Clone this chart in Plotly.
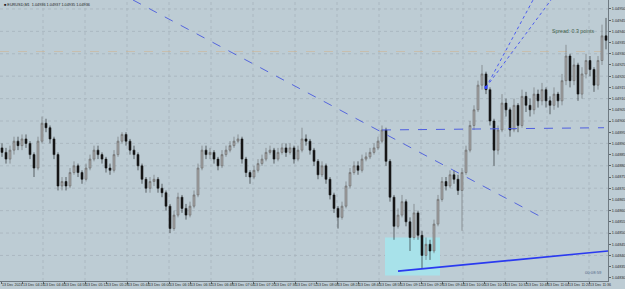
import numpy as np
import plotly.graph_objects as go

# ---- data (EURUSD M1, prices) ----
opens = [1.04888,1.04886,1.04883,1.04887,1.04891,1.04889,1.04892,1.04890,1.04885,1.04879,
 1.04891,1.04899,1.04897,1.04892,1.04885,1.04871,1.04873,1.04871,1.04877,1.04880,
 1.04877,1.04874,1.04879,1.04883,1.04887,1.04885,1.04883,1.04879,1.04878,1.04885,
 1.04891,1.04894,1.04891,1.04887,1.04885,1.04880,1.04874,1.04870,1.04873,1.04874,
 1.04870,1.04868,1.04862,1.04852,1.04858,1.04866,1.04861,1.04858,1.04862,1.04867,
 1.04879,1.04887,1.04885,1.04886,1.04883,1.04880,1.04885,1.04887,1.04889,1.04891,
 1.04892,1.04883,1.04877,1.04875,1.04878,1.04881,1.04883,1.04886,1.04887,1.04883,
 1.04886,1.04888,1.04886,1.04888,1.04883,1.04887,1.04892,1.04891,1.04887,1.04882,
 1.04876,1.04880,1.04874,1.04867,1.04861,1.04857,1.04862,1.04871,1.04877,1.04880,
 1.04878,1.04883,1.04884,1.04886,1.04888,1.04891,1.04896,1.04882,1.04866,1.04853,
 1.04858,1.04864,1.04855,1.04848,1.04859,1.04849,1.04840,1.04845,1.04842,1.04854,
 1.04865,1.04873,1.04871,1.04876,1.04874,1.04869,1.04877,1.04887,1.04898,1.04905,
 1.04916,1.04921,1.04914,1.04900,1.04887,1.04896,1.04908,1.04905,1.04896,1.04907,
 1.04898,1.04911,1.04907,1.04905,1.04912,1.04909,1.04914,1.04909,1.04907,1.04912,
 1.04909,1.04918,1.04929,1.04918,1.04925,1.04912,1.04921,1.04927,1.04923,1.04916,
 1.04927,1.04938]
closes = [1.04886,1.04883,1.04887,1.04891,1.04889,1.04892,1.04890,1.04885,1.04879,1.04891,
 1.04899,1.04897,1.04892,1.04885,1.04871,1.04873,1.04871,1.04877,1.04880,1.04877,
 1.04874,1.04879,1.04883,1.04887,1.04885,1.04883,1.04879,1.04878,1.04885,1.04891,
 1.04894,1.04891,1.04887,1.04885,1.04880,1.04874,1.04870,1.04873,1.04874,1.04870,
 1.04868,1.04862,1.04852,1.04858,1.04866,1.04861,1.04858,1.04862,1.04867,1.04879,
 1.04887,1.04885,1.04886,1.04883,1.04880,1.04885,1.04887,1.04889,1.04891,1.04892,
 1.04883,1.04877,1.04875,1.04878,1.04881,1.04883,1.04886,1.04887,1.04883,1.04886,
 1.04888,1.04886,1.04888,1.04883,1.04887,1.04892,1.04891,1.04887,1.04882,1.04876,
 1.04880,1.04874,1.04867,1.04861,1.04857,1.04862,1.04871,1.04877,1.04880,1.04878,
 1.04883,1.04884,1.04886,1.04888,1.04891,1.04896,1.04882,1.04866,1.04853,1.04858,
 1.04864,1.04855,1.04848,1.04859,1.04849,1.04840,1.04845,1.04842,1.04854,1.04865,
 1.04873,1.04871,1.04876,1.04874,1.04869,1.04877,1.04887,1.04898,1.04905,1.04916,
 1.04921,1.04914,1.04900,1.04887,1.04896,1.04908,1.04905,1.04896,1.04907,1.04898,
 1.04911,1.04907,1.04905,1.04912,1.04909,1.04914,1.04909,1.04907,1.04912,1.04909,
 1.04918,1.04929,1.04918,1.04925,1.04912,1.04921,1.04927,1.04923,1.04916,1.04927,
 1.04938,1.04936]
highs = [1.04890,1.04888,1.04889,1.04893,1.04893,1.04894,1.04894,1.04891,1.04886,1.04893,
 1.04902,1.04901,1.04898,1.04893,1.04886,1.04875,1.04875,1.04879,1.04882,1.04881,
 1.04878,1.04881,1.04885,1.04889,1.04889,1.04886,1.04884,1.04881,1.04887,1.04893,
 1.04895,1.04895,1.04892,1.04889,1.04886,1.04881,1.04875,1.04875,1.04876,1.04875,
 1.04872,1.04869,1.04863,1.04860,1.04868,1.04867,1.04863,1.04864,1.04869,1.04881,
 1.04889,1.04889,1.04888,1.04887,1.04884,1.04887,1.04889,1.04891,1.04893,1.04894,
 1.04893,1.04884,1.04878,1.04880,1.04883,1.04885,1.04888,1.04889,1.04888,1.04888,
 1.04890,1.04890,1.04890,1.04889,1.04889,1.04897,1.04894,1.04892,1.04888,1.04883,
 1.04882,1.04881,1.04875,1.04868,1.04862,1.04864,1.04873,1.04879,1.04882,1.04882,
 1.04885,1.04886,1.04888,1.04890,1.04893,1.04898,1.04897,1.04883,1.04867,1.04861,
 1.04867,1.04865,1.04857,1.04863,1.04860,1.04851,1.04848,1.04847,1.04856,1.04867,
 1.04875,1.04875,1.04878,1.04878,1.04876,1.04879,1.04889,1.04900,1.04907,1.04918,
 1.04925,1.04922,1.04915,1.04901,1.04898,1.04912,1.04910,1.04906,1.04910,1.04908,
 1.04914,1.04913,1.04910,1.04915,1.04914,1.04917,1.04915,1.04911,1.04915,1.04913,
 1.04921,1.04934,1.04930,1.04928,1.04926,1.04924,1.04930,1.04929,1.04924,1.04929,
 1.04943,1.04946]
lows = [1.04884,1.04881,1.04881,1.04885,1.04887,1.04887,1.04888,1.04883,1.04875,1.04878,
 1.04890,1.04895,1.04890,1.04883,1.04869,1.04869,1.04869,1.04870,1.04876,1.04875,
 1.04872,1.04873,1.04878,1.04882,1.04883,1.04881,1.04877,1.04876,1.04877,1.04884,
 1.04890,1.04889,1.04885,1.04883,1.04878,1.04872,1.04868,1.04868,1.04871,1.04868,
 1.04866,1.04860,1.04850,1.04851,1.04857,1.04859,1.04856,1.04857,1.04861,1.04866,
 1.04878,1.04883,1.04883,1.04881,1.04878,1.04879,1.04884,1.04886,1.04888,1.04890,
 1.04881,1.04875,1.04872,1.04874,1.04877,1.04880,1.04882,1.04885,1.04881,1.04882,
 1.04885,1.04884,1.04885,1.04881,1.04882,1.04886,1.04889,1.04885,1.04880,1.04874,
 1.04875,1.04872,1.04865,1.04859,1.04852,1.04856,1.04861,1.04870,1.04876,1.04876,
 1.04877,1.04882,1.04883,1.04885,1.04887,1.04890,1.04880,1.04864,1.04847,1.04852,
 1.04857,1.04853,1.04842,1.04847,1.04847,1.04834,1.04838,1.04838,1.04841,1.04853,
 1.04864,1.04869,1.04870,1.04872,1.04867,1.04851,1.04876,1.04886,1.04896,1.04904,
 1.04914,1.04912,1.04898,1.04880,1.04885,1.04895,1.04902,1.04893,1.04895,1.04895,
 1.04897,1.04904,1.04902,1.04903,1.04906,1.04907,1.04906,1.04903,1.04905,1.04906,
 1.04907,1.04916,1.04915,1.04916,1.04909,1.04910,1.04919,1.04920,1.04913,1.04914,
 1.04925,1.04932]

time_labels = ["13 Dec 2024", "13 Dec 04:24", "13 Dec 04:40", "13 Dec 04:56", "13 Dec 05:12",
 "13 Dec 05:28", "13 Dec 05:44", "13 Dec 06:00", "13 Dec 06:16", "13 Dec 06:32",
 "13 Dec 06:48", "13 Dec 07:04", "13 Dec 07:20", "13 Dec 07:36", "13 Dec 07:52",
 "13 Dec 08:08", "13 Dec 08:24", "13 Dec 08:40", "13 Dec 08:56", "13 Dec 09:12",
 "13 Dec 09:28", "13 Dec 09:44", "13 Dec 10:00", "13 Dec 10:16", "13 Dec 10:32",
 "13 Dec 10:48", "13 Dec 11:04", "13 Dec 11:20", "13 Dec 11:36"]
bars_per_label = 5.25

# drawing objects: anchors in (bar index, price)
trend_down = ([32.75, 135.0], [1.04954, 1.04857])
trend_flat = ([95.0, 150.5], [1.04896, 1.04897])
fan_a = ([121.0, 132.75], [1.04915, 1.04954])
fan_b = ([121.0, 137.25], [1.04915, 1.04954])
support = ([99.0, 151.5], [1.04833, 1.04842])
box = ([95.75, 109.5], [1.04831, 1.04848])
ask_level = 1.04931
legend_text = "■ EURUSD,M1  1.04936 1.04937 1.04935 1.04936"
spread_text = "Spread: 0.3 points"
timer_text = "00:08:59"

x = list(range(len(closes)))
y_min, y_max = 1.048286, 1.04954
x_min, x_max = -0.5, 151.5

fig = go.Figure()

shapes = []
grid_col = "#a7b4bc"
for p in np.arange(1.04840, 1.04951, 0.0001):
    shapes.append(dict(type="line", xref="paper", x0=0, x1=1, yref="y", y0=p, y1=p,
                       line=dict(color=grid_col, width=0.8, dash="dot"), layer="below"))
tickvals_x = [k * bars_per_label - 0.25 for k in range(len(time_labels))]
for k, tv in enumerate(tickvals_x):
    if k % 2 == 0 and k > 0:
        shapes.append(dict(type="line", yref="paper", y0=0, y1=1, xref="x", x0=tv, x1=tv,
                           line=dict(color=grid_col, width=0.8, dash="dot"), layer="below"))
shapes.append(dict(type="rect", xref="x", yref="y", x0=box[0][0], x1=box[0][1],
                   y0=box[1][0], y1=box[1][1], fillcolor="#a8e2ea",
                   line=dict(width=0), layer="below"))
shapes.append(dict(type="line", xref="paper", x0=0, x1=1, yref="y", y0=ask_level, y1=ask_level,
                   line=dict(color="#d0b48e", width=0.8, dash="dash"), layer="below", opacity=0.7))

fig.add_trace(go.Candlestick(
    x=x, open=opens, high=highs, low=lows, close=closes,
    increasing=dict(line=dict(color="#6a6a6a", width=0.6), fillcolor="#a6a6a6"),
    decreasing=dict(line=dict(color="#151515", width=0.6), fillcolor="#151515"),
    whiskerwidth=0, showlegend=False, hoverinfo="skip"))

def seg(pts, color, width, dash):
    fig.add_trace(go.Scatter(x=pts[0], y=pts[1], mode="lines", showlegend=False,
                             hoverinfo="skip", line=dict(color=color, width=width, dash=dash)))

seg(trend_down, "#5566dd", 1, "dash")
seg(trend_flat, "#4f5fe0", 1, "dash")
seg(fan_a, "#4c5cf0", 1, "dot")
seg(fan_b, "#4c5cf0", 1, "dot")
seg(support, "#2a3af0", 1.6, "solid")
fig.add_trace(go.Scatter(x=[fan_a[0][0]], y=[fan_a[1][0]], mode="markers", showlegend=False,
                         hoverinfo="skip", marker=dict(symbol="square", size=3, color="#3344ff")))

fig.update_layout(
    width=625, height=289,
    margin=dict(l=0, r=17, t=0, b=8),
    paper_bgcolor="#bdccd4", plot_bgcolor="#bdccd4",
    shapes=shapes,
    font=dict(family="Liberation Sans, Arial, sans-serif", color="#2a2a2a"),
    xaxis=dict(range=[x_min, x_max], showgrid=False, zeroline=False,
               tickvals=tickvals_x, ticktext=time_labels, ticks="outside", ticklen=2,
               tickangle=0,
               tickcolor="#5a646c", tickfont=dict(size=3.6, color="#2a2a2a"),
               ticklabelposition="outside right",
               showline=True, linecolor="#6f7a82", linewidth=1,
               rangeslider=dict(visible=False), fixedrange=True),
    yaxis=dict(range=[y_min, y_max], side="right", showgrid=False, zeroline=False,
               tickvals=[round(v, 5) for v in np.arange(1.04830, 1.049501, 0.00005)],
               tickformat=".5f", ticks="outside", ticklen=2, tickcolor="#5a646c",
               tickfont=dict(size=3.8, color="#2a2a2a"),
               showline=True, linecolor="#6f7a82", linewidth=1, fixedrange=True),
    annotations=[
        dict(text=legend_text, xref="paper", yref="paper", x=0.004, y=0.995,
             xanchor="left", yanchor="top", showarrow=False,
             font=dict(size=3.8, color="#1e1e1e")),
        dict(text=spread_text, xref="paper", yref="paper", x=0.982, y=0.888,
             xanchor="right", yanchor="middle", showarrow=False,
             font=dict(size=5.2, color="#40604a")),
        dict(text=timer_text, xref="paper", yref="paper", x=0.993, y=0.015,
             xanchor="right", yanchor="bottom", showarrow=False,
             font=dict(size=4.2, color="#55688a")),
    ],
)

fig.write_html("out.html", config={"displayModeBar": False})
